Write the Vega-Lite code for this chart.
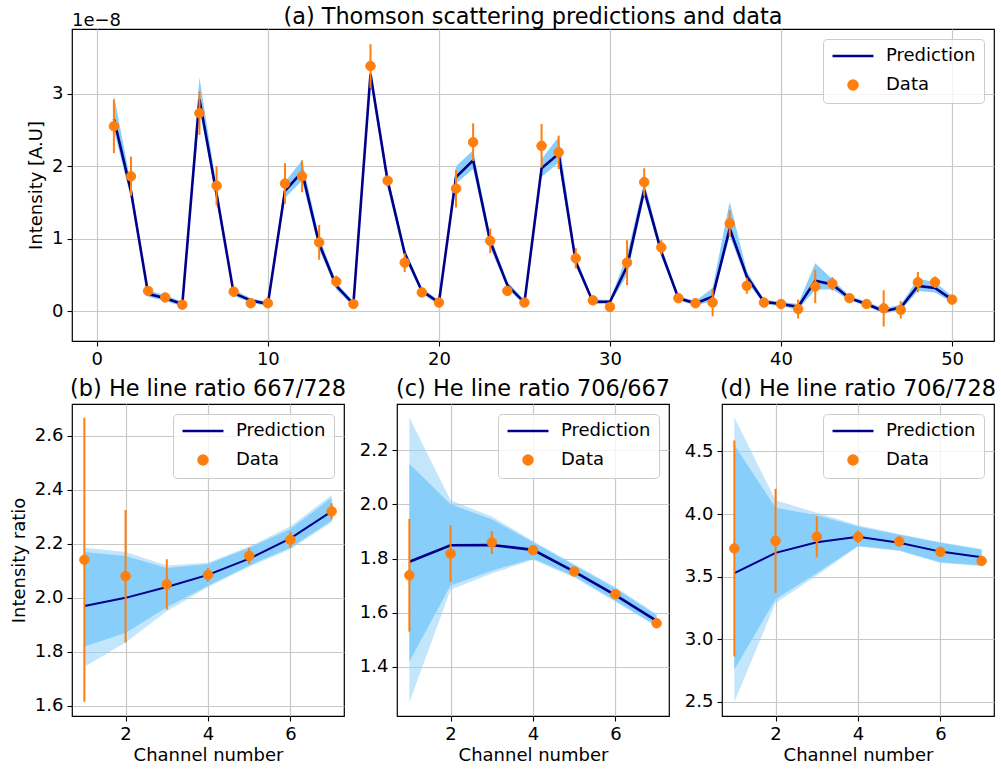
{
  "$schema": "https://vega.github.io/schema/vega-lite/v6.json",
  "padding": {"left": 9, "top": 5, "right": 3, "bottom": 3},
  "background": "white",
  "config": {
    "font": "DejaVu Sans",
    "view": {"stroke": "#000000", "strokeWidth": 1.2},
    "axis": {"labelFont": "DejaVu Sans", "titleFont": "DejaVu Sans", "labelFontSize": 18, "titleFontSize": 18, "titleFontWeight": "normal", "labelColor": "#000000", "titleColor": "#000000", "tickColor": "#000000", "tickSize": 5, "tickWidth": 1.1, "labelPadding": 4, "titlePadding": 6, "domain": false, "gridColor": "#c8c8c8", "gridWidth": 1.2, "labelFlush": false, "labelOverlap": false},
    "title": {"font": "DejaVu Sans", "fontSize": 22.4, "fontWeight": "normal", "color": "#000000", "offset": 2, "frame": "group"},
    "legend": {"orient": "top-right", "offset": 10, "padding": 8, "rowPadding": 10, "labelFont": "DejaVu Sans", "labelFontSize": 18, "labelColor": "#000000", "symbolSize": 81, "symbolOffset": 13, "symbolStrokeWidth": 2.5, "labelOffset": 24, "strokeColor": "#cccccc", "fillColor": "rgba(255,255,255,0.8)", "cornerRadius": 4}
  },
  "datasets": {
    "a": [
      {"ch": 1, "val": 2.55, "eLo": 2.18, "eHi": 2.92, "pred": 2.65, "bLo": 2.50, "bHi": 2.98},
      {"ch": 2, "val": 1.86, "eLo": 1.59, "eHi": 2.13, "pred": 1.65, "bLo": 1.55, "bHi": 1.75},
      {"ch": 3, "val": 0.28, "eLo": 0.23, "eHi": 0.33, "pred": 0.24, "bLo": 0.20, "bHi": 0.29},
      {"ch": 4, "val": 0.19, "eLo": 0.15, "eHi": 0.23, "pred": 0.18, "bLo": 0.14, "bHi": 0.22},
      {"ch": 5, "val": 0.09, "eLo": 0.05, "eHi": 0.13, "pred": 0.10, "bLo": 0.07, "bHi": 0.13},
      {"ch": 6, "val": 2.73, "eLo": 2.43, "eHi": 3.03, "pred": 2.92, "bLo": 2.80, "bHi": 3.22},
      {"ch": 7, "val": 1.73, "eLo": 1.46, "eHi": 2.00, "pred": 1.62, "bLo": 1.52, "bHi": 1.72},
      {"ch": 8, "val": 0.27, "eLo": 0.20, "eHi": 0.34, "pred": 0.25, "bLo": 0.21, "bHi": 0.30},
      {"ch": 9, "val": 0.11, "eLo": 0.07, "eHi": 0.15, "pred": 0.15, "bLo": 0.12, "bHi": 0.18},
      {"ch": 10, "val": 0.11, "eLo": 0.08, "eHi": 0.14, "pred": 0.10, "bLo": 0.07, "bHi": 0.13},
      {"ch": 11, "val": 1.76, "eLo": 1.48, "eHi": 2.04, "pred": 1.66, "bLo": 1.56, "bHi": 1.78},
      {"ch": 12, "val": 1.86, "eLo": 1.64, "eHi": 2.08, "pred": 1.92, "bLo": 1.80, "bHi": 2.08},
      {"ch": 13, "val": 0.95, "eLo": 0.71, "eHi": 1.19, "pred": 0.93, "bLo": 0.85, "bHi": 1.02},
      {"ch": 14, "val": 0.41, "eLo": 0.33, "eHi": 0.49, "pred": 0.35, "bLo": 0.30, "bHi": 0.40},
      {"ch": 15, "val": 0.10, "eLo": 0.07, "eHi": 0.13, "pred": 0.10, "bLo": 0.07, "bHi": 0.13},
      {"ch": 16, "val": 3.38, "eLo": 3.08, "eHi": 3.68, "pred": 3.27, "bLo": 3.15, "bHi": 3.33},
      {"ch": 17, "val": 1.80, "eLo": 1.73, "eHi": 1.87, "pred": 1.80, "bLo": 1.70, "bHi": 1.88},
      {"ch": 18, "val": 0.67, "eLo": 0.54, "eHi": 0.80, "pred": 0.80, "bLo": 0.74, "bHi": 0.86},
      {"ch": 19, "val": 0.26, "eLo": 0.21, "eHi": 0.31, "pred": 0.28, "bLo": 0.24, "bHi": 0.32},
      {"ch": 20, "val": 0.12, "eLo": 0.09, "eHi": 0.15, "pred": 0.12, "bLo": 0.09, "bHi": 0.15},
      {"ch": 21, "val": 1.69, "eLo": 1.43, "eHi": 1.95, "pred": 1.85, "bLo": 1.76, "bHi": 2.00},
      {"ch": 22, "val": 2.33, "eLo": 2.07, "eHi": 2.59, "pred": 2.08, "bLo": 1.96, "bHi": 2.22},
      {"ch": 23, "val": 0.97, "eLo": 0.80, "eHi": 1.14, "pred": 0.96, "bLo": 0.88, "bHi": 1.04},
      {"ch": 24, "val": 0.28, "eLo": 0.22, "eHi": 0.34, "pred": 0.36, "bLo": 0.31, "bHi": 0.41},
      {"ch": 25, "val": 0.12, "eLo": 0.09, "eHi": 0.15, "pred": 0.12, "bLo": 0.09, "bHi": 0.15},
      {"ch": 26, "val": 2.28, "eLo": 1.98, "eHi": 2.58, "pred": 1.97, "bLo": 1.85, "bHi": 2.10},
      {"ch": 27, "val": 2.19, "eLo": 1.96, "eHi": 2.42, "pred": 2.17, "bLo": 2.05, "bHi": 2.40},
      {"ch": 28, "val": 0.73, "eLo": 0.59, "eHi": 0.87, "pred": 0.68, "bLo": 0.62, "bHi": 0.75},
      {"ch": 29, "val": 0.15, "eLo": 0.12, "eHi": 0.18, "pred": 0.13, "bLo": 0.10, "bHi": 0.16},
      {"ch": 30, "val": 0.06, "eLo": 0.03, "eHi": 0.09, "pred": 0.13, "bLo": 0.10, "bHi": 0.16},
      {"ch": 31, "val": 0.67, "eLo": 0.36, "eHi": 0.98, "pred": 0.62, "bLo": 0.50, "bHi": 0.78},
      {"ch": 32, "val": 1.78, "eLo": 1.59, "eHi": 1.97, "pred": 1.67, "bLo": 1.58, "bHi": 1.78},
      {"ch": 33, "val": 0.88, "eLo": 0.78, "eHi": 0.98, "pred": 0.82, "bLo": 0.75, "bHi": 0.89},
      {"ch": 34, "val": 0.18, "eLo": 0.15, "eHi": 0.21, "pred": 0.18, "bLo": 0.15, "bHi": 0.21},
      {"ch": 35, "val": 0.11, "eLo": 0.08, "eHi": 0.14, "pred": 0.11, "bLo": 0.08, "bHi": 0.14},
      {"ch": 36, "val": 0.12, "eLo": -0.07, "eHi": 0.31, "pred": 0.20, "bLo": 0.14, "bHi": 0.32},
      {"ch": 37, "val": 1.21, "eLo": 1.03, "eHi": 1.39, "pred": 1.14, "bLo": 1.04, "bHi": 1.51},
      {"ch": 38, "val": 0.35, "eLo": 0.24, "eHi": 0.46, "pred": 0.48, "bLo": 0.41, "bHi": 0.55},
      {"ch": 39, "val": 0.12, "eLo": 0.09, "eHi": 0.15, "pred": 0.13, "bLo": 0.10, "bHi": 0.16},
      {"ch": 40, "val": 0.10, "eLo": 0.07, "eHi": 0.13, "pred": 0.10, "bLo": 0.07, "bHi": 0.13},
      {"ch": 41, "val": 0.03, "eLo": -0.10, "eHi": 0.16, "pred": 0.06, "bLo": 0.02, "bHi": 0.10},
      {"ch": 42, "val": 0.34, "eLo": 0.11, "eHi": 0.57, "pred": 0.42, "bLo": 0.30, "bHi": 0.66},
      {"ch": 43, "val": 0.38, "eLo": 0.29, "eHi": 0.47, "pred": 0.37, "bLo": 0.30, "bHi": 0.44},
      {"ch": 44, "val": 0.18, "eLo": 0.15, "eHi": 0.21, "pred": 0.18, "bLo": 0.15, "bHi": 0.21},
      {"ch": 45, "val": 0.10, "eLo": 0.07, "eHi": 0.13, "pred": 0.10, "bLo": 0.07, "bHi": 0.13},
      {"ch": 46, "val": 0.04, "eLo": -0.21, "eHi": 0.29, "pred": 0.00, "bLo": -0.03, "bHi": 0.04},
      {"ch": 47, "val": 0.02, "eLo": -0.10, "eHi": 0.14, "pred": 0.05, "bLo": 0.01, "bHi": 0.09},
      {"ch": 48, "val": 0.40, "eLo": 0.26, "eHi": 0.54, "pred": 0.35, "bLo": 0.28, "bHi": 0.45},
      {"ch": 49, "val": 0.40, "eLo": 0.32, "eHi": 0.48, "pred": 0.32, "bLo": 0.26, "bHi": 0.40},
      {"ch": 50, "val": 0.16, "eLo": 0.11, "eHi": 0.21, "pred": 0.16, "bLo": 0.12, "bHi": 0.21}
    ],
    "b": [
      {"ch": 1, "val": 2.141, "eLo": 1.616, "eHi": 2.666, "pred": 1.97, "iLo": 1.82, "iHi": 2.17, "oLo": 1.745, "oHi": 2.185},
      {"ch": 2, "val": 2.08, "eLo": 1.835, "eHi": 2.325, "pred": 2.00, "iLo": 1.87, "iHi": 2.155, "oLo": 1.835, "oHi": 2.17},
      {"ch": 3, "val": 2.05, "eLo": 1.957, "eHi": 2.143, "pred": 2.04, "iLo": 1.965, "iHi": 2.11, "oLo": 1.95, "oHi": 2.12},
      {"ch": 4, "val": 2.085, "eLo": 2.06, "eHi": 2.11, "pred": 2.085, "iLo": 2.045, "iHi": 2.125, "oLo": 2.04, "oHi": 2.13},
      {"ch": 5, "val": 2.155, "eLo": 2.125, "eHi": 2.185, "pred": 2.145, "iLo": 2.12, "iHi": 2.185, "oLo": 2.115, "oHi": 2.19},
      {"ch": 6, "val": 2.215, "eLo": 2.185, "eHi": 2.245, "pred": 2.22, "iLo": 2.185, "iHi": 2.255, "oLo": 2.18, "oHi": 2.265},
      {"ch": 7, "val": 2.32, "eLo": 2.29, "eHi": 2.35, "pred": 2.32, "iLo": 2.285, "iHi": 2.37, "oLo": 2.28, "oHi": 2.38}
    ],
    "c": [
      {"ch": 1, "val": 1.738, "eLo": 1.53, "eHi": 1.946, "pred": 1.788, "iLo": 1.42, "iHi": 2.15, "oLo": 1.27, "oHi": 2.32},
      {"ch": 2, "val": 1.818, "eLo": 1.713, "eHi": 1.923, "pred": 1.849, "iLo": 1.70, "iHi": 2.00, "oLo": 1.685, "oHi": 2.015},
      {"ch": 3, "val": 1.859, "eLo": 1.817, "eHi": 1.901, "pred": 1.85, "iLo": 1.755, "iHi": 1.945, "oLo": 1.745, "oHi": 1.955},
      {"ch": 4, "val": 1.831, "eLo": 1.819, "eHi": 1.843, "pred": 1.832, "iLo": 1.80, "iHi": 1.86, "oLo": 1.795, "oHi": 1.865},
      {"ch": 5, "val": 1.752, "eLo": 1.742, "eHi": 1.762, "pred": 1.752, "iLo": 1.735, "iHi": 1.775, "oLo": 1.73, "oHi": 1.78},
      {"ch": 6, "val": 1.668, "eLo": 1.658, "eHi": 1.678, "pred": 1.665, "iLo": 1.645, "iHi": 1.69, "oLo": 1.64, "oHi": 1.695},
      {"ch": 7, "val": 1.561, "eLo": 1.553, "eHi": 1.569, "pred": 1.57, "iLo": 1.552, "iHi": 1.59, "oLo": 1.548, "oHi": 1.595}
    ],
    "d": [
      {"ch": 1, "val": 3.725, "eLo": 2.863, "eHi": 4.587, "pred": 3.528, "iLo": 2.76, "iHi": 4.55, "oLo": 2.50, "oHi": 4.77},
      {"ch": 2, "val": 3.786, "eLo": 3.371, "eHi": 4.201, "pred": 3.69, "iLo": 3.32, "iHi": 4.05, "oLo": 3.29, "oHi": 4.11},
      {"ch": 3, "val": 3.818, "eLo": 3.655, "eHi": 3.981, "pred": 3.775, "iLo": 3.53, "iHi": 3.99, "oLo": 3.51, "oHi": 4.01},
      {"ch": 4, "val": 3.818, "eLo": 3.768, "eHi": 3.868, "pred": 3.818, "iLo": 3.745, "iHi": 3.90, "oLo": 3.74, "oHi": 3.91},
      {"ch": 5, "val": 3.781, "eLo": 3.741, "eHi": 3.821, "pred": 3.77, "iLo": 3.71, "iHi": 3.835, "oLo": 3.705, "oHi": 3.84},
      {"ch": 6, "val": 3.698, "eLo": 3.668, "eHi": 3.728, "pred": 3.70, "iLo": 3.615, "iHi": 3.77, "oLo": 3.61, "oHi": 3.775},
      {"ch": 7, "val": 3.626, "eLo": 3.586, "eHi": 3.666, "pred": 3.655, "iLo": 3.59, "iHi": 3.715, "oLo": 3.585, "oHi": 3.72}
    ]
  },
  "spacing": 63,
  "bounds": "flush",
  "resolve": {"scale": {"color": "independent", "shape": "independent"}, "legend": {"color": "independent", "shape": "independent"}},
  "vconcat": [
    {
      "width": 922,
      "height": 312,
      "title": {"text": "(a) Thomson scattering predictions and data", "offset": -16},
      "layer": [
        {
          "data": {"name": "a"},
          "mark": {"type": "area", "color": "#87cefa", "opacity": 1},
          "encoding": {
            "x": {"field": "ch", "type": "quantitative", "scale": {"domain": [-1.45, 52.45], "nice": false, "zero": false}, "axis": {"values": [0, 10, 20, 30, 40, 50], "format": "d", "title": null}},
            "y": {"field": "bLo", "type": "quantitative", "scale": {"domain": [-0.41, 3.89], "nice": false, "zero": false}, "axis": {"values": [0, 1, 2, 3], "format": "d", "title": "Intensity [A.U]"}},
            "y2": {"field": "bHi"}
          }
        },
        {
          "data": {"name": "a"},
          "mark": {"type": "line", "strokeWidth": 2.6, "color": "#00008b"},
          "encoding": {"x": {"field": "ch", "type": "quantitative"}, "y": {"field": "pred", "type": "quantitative"}}
        },
        {
          "data": {"name": "a"},
          "mark": {"type": "rule", "color": "#ff7f0e", "strokeWidth": 2},
          "encoding": {"x": {"field": "ch", "type": "quantitative"}, "y": {"field": "eLo", "type": "quantitative"}, "y2": {"field": "eHi"}}
        },
        {
          "data": {"name": "a"},
          "mark": {"type": "point", "filled": false, "fill": "#ff7f0e", "strokeWidth": 1, "size": 90, "opacity": 1},
          "encoding": {
            "x": {"field": "ch", "type": "quantitative"},
            "y": {"field": "val", "type": "quantitative"},
            "color": {"datum": "Data", "type": "nominal", "scale": {"domain": ["Prediction", "Data"], "range": ["#00008b", "#ff7f0e"]}, "legend": {"title": null}},
            "shape": {"datum": "Data", "type": "nominal", "scale": {"domain": ["Prediction", "Data"], "range": ["M-4.55,0L4.55,0", "circle"]}, "legend": {"title": null}}
          }
        },
        {
          "data": {"values": [{"note": "offset"}]},
          "mark": {"type": "text", "text": "1e−8", "fontSize": 18, "font": "DejaVu Sans", "align": "left", "baseline": "alphabetic", "dy": -3, "color": "#000000"},
          "encoding": {"x": {"datum": -1.45, "type": "quantitative"}, "y": {"datum": 3.89, "type": "quantitative"}}
        }
      ]
    },
    {
      "spacing": 53,
      "bounds": "flush",
      "resolve": {"scale": {"color": "independent", "shape": "independent"}, "legend": {"color": "independent", "shape": "independent"}},
      "hconcat": [
        {
          "width": 272,
          "height": 312,
          "title": {"text": "(b) He line ratio 667/728", "offset": 4},
          "data": {"name": "b"},
          "layer": [
            {
              "mark": {"type": "area", "color": "#87cefa", "opacity": 0.5},
              "encoding": {
                "x": {"field": "ch", "type": "quantitative", "scale": {"domain": [0.7, 7.3], "nice": false, "zero": false}, "axis": {"values": [2, 4, 6], "title": "Channel number", "titlePadding": 3}},
                "y": {"field": "oLo", "type": "quantitative", "scale": {"domain": [1.563, 2.717], "nice": false, "zero": false}, "axis": {"values": [1.6, 1.8, 2.0, 2.2, 2.4, 2.6], "format": ".1f", "title": "Intensity ratio"}},
                "y2": {"field": "oHi"}
              }
            },
            {
              "mark": {"type": "area", "color": "#87cefa", "opacity": 1},
              "encoding": {"x": {"field": "ch", "type": "quantitative"}, "y": {"field": "iLo", "type": "quantitative"}, "y2": {"field": "iHi"}}
            },
            {
              "mark": {"type": "line", "strokeWidth": 2, "color": "#00008b"},
              "encoding": {"x": {"field": "ch", "type": "quantitative"}, "y": {"field": "pred", "type": "quantitative"}}
            },
            {
              "mark": {"type": "rule", "color": "#ff7f0e", "strokeWidth": 2},
              "encoding": {"x": {"field": "ch", "type": "quantitative"}, "y": {"field": "eLo", "type": "quantitative"}, "y2": {"field": "eHi"}}
            },
            {
              "mark": {"type": "point", "filled": false, "fill": "#ff7f0e", "strokeWidth": 1, "size": 90, "opacity": 1},
              "encoding": {
                "x": {"field": "ch", "type": "quantitative"},
                "y": {"field": "val", "type": "quantitative"},
                "color": {"datum": "Data", "type": "nominal", "scale": {"domain": ["Prediction", "Data"], "range": ["#00008b", "#ff7f0e"]}, "legend": {"title": null}},
                "shape": {"datum": "Data", "type": "nominal", "scale": {"domain": ["Prediction", "Data"], "range": ["M-4.55,0L4.55,0", "circle"]}, "legend": {"title": null}}
              }
            }
          ]
        },
        {
          "width": 272,
          "height": 312,
          "title": {"text": "(c) He line ratio 706/667", "offset": 4},
          "data": {"name": "c"},
          "layer": [
            {
              "mark": {"type": "area", "color": "#87cefa", "opacity": 0.5},
              "encoding": {
                "x": {"field": "ch", "type": "quantitative", "scale": {"domain": [0.7, 7.3], "nice": false, "zero": false}, "axis": {"values": [2, 4, 6], "title": "Channel number", "titlePadding": 3}},
                "y": {"field": "oLo", "type": "quantitative", "scale": {"domain": [1.219, 2.37], "nice": false, "zero": false}, "axis": {"values": [1.4, 1.6, 1.8, 2.0, 2.2], "format": ".1f", "title": null}},
                "y2": {"field": "oHi"}
              }
            },
            {
              "mark": {"type": "area", "color": "#87cefa", "opacity": 1},
              "encoding": {"x": {"field": "ch", "type": "quantitative"}, "y": {"field": "iLo", "type": "quantitative"}, "y2": {"field": "iHi"}}
            },
            {
              "mark": {"type": "line", "strokeWidth": 2.6, "color": "#00008b"},
              "encoding": {"x": {"field": "ch", "type": "quantitative"}, "y": {"field": "pred", "type": "quantitative"}}
            },
            {
              "mark": {"type": "rule", "color": "#ff7f0e", "strokeWidth": 2},
              "encoding": {"x": {"field": "ch", "type": "quantitative"}, "y": {"field": "eLo", "type": "quantitative"}, "y2": {"field": "eHi"}}
            },
            {
              "mark": {"type": "point", "filled": false, "fill": "#ff7f0e", "strokeWidth": 1, "size": 90, "opacity": 1},
              "encoding": {
                "x": {"field": "ch", "type": "quantitative"},
                "y": {"field": "val", "type": "quantitative"},
                "color": {"datum": "Data", "type": "nominal", "scale": {"domain": ["Prediction", "Data"], "range": ["#00008b", "#ff7f0e"]}, "legend": {"title": null}},
                "shape": {"datum": "Data", "type": "nominal", "scale": {"domain": ["Prediction", "Data"], "range": ["M-4.55,0L4.55,0", "circle"]}, "legend": {"title": null}}
              }
            }
          ]
        },
        {
          "width": 272,
          "height": 312,
          "title": {"text": "(d) He line ratio 706/728", "offset": 4},
          "data": {"name": "d"},
          "layer": [
            {
              "mark": {"type": "area", "color": "#87cefa", "opacity": 0.5},
              "encoding": {
                "x": {"field": "ch", "type": "quantitative", "scale": {"domain": [0.7, 7.3], "nice": false, "zero": false}, "axis": {"values": [2, 4, 6], "title": "Channel number", "titlePadding": 3}},
                "y": {"field": "oLo", "type": "quantitative", "scale": {"domain": [2.388, 4.878], "nice": false, "zero": false}, "axis": {"values": [2.5, 3.0, 3.5, 4.0, 4.5], "format": ".1f", "title": null}},
                "y2": {"field": "oHi"}
              }
            },
            {
              "mark": {"type": "area", "color": "#87cefa", "opacity": 1},
              "encoding": {"x": {"field": "ch", "type": "quantitative"}, "y": {"field": "iLo", "type": "quantitative"}, "y2": {"field": "iHi"}}
            },
            {
              "mark": {"type": "line", "strokeWidth": 2, "color": "#00008b"},
              "encoding": {"x": {"field": "ch", "type": "quantitative"}, "y": {"field": "pred", "type": "quantitative"}}
            },
            {
              "mark": {"type": "rule", "color": "#ff7f0e", "strokeWidth": 2},
              "encoding": {"x": {"field": "ch", "type": "quantitative"}, "y": {"field": "eLo", "type": "quantitative"}, "y2": {"field": "eHi"}}
            },
            {
              "mark": {"type": "point", "filled": false, "fill": "#ff7f0e", "strokeWidth": 1, "size": 90, "opacity": 1},
              "encoding": {
                "x": {"field": "ch", "type": "quantitative"},
                "y": {"field": "val", "type": "quantitative"},
                "color": {"datum": "Data", "type": "nominal", "scale": {"domain": ["Prediction", "Data"], "range": ["#00008b", "#ff7f0e"]}, "legend": {"title": null}},
                "shape": {"datum": "Data", "type": "nominal", "scale": {"domain": ["Prediction", "Data"], "range": ["M-4.55,0L4.55,0", "circle"]}, "legend": {"title": null}}
              }
            }
          ]
        }
      ]
    }
  ]
}
